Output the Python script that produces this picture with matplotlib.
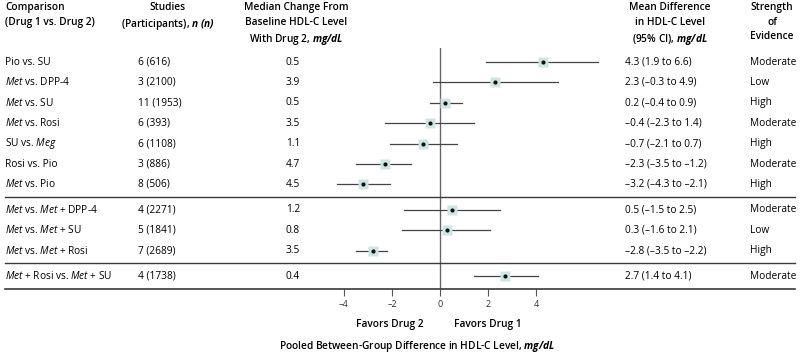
import matplotlib
matplotlib.use("Agg")
import matplotlib.pyplot as plt
import matplotlib.transforms as mtransforms

plt.rcParams['font.family'] = ['Open Sans', 'DejaVu Sans']
plt.rcParams['mathtext.fontset'] = 'custom'
plt.rcParams['mathtext.rm'] = 'Open Sans'
plt.rcParams['mathtext.it'] = 'Open Sans:italic'
plt.rcParams['mathtext.bf'] = 'Open Sans:bold'
plt.rcParams['mathtext.bfit'] = 'Open Sans:italic:bold'

# data
comparisons = [r"Pio vs. SU", r"$\mathit{Met}$ vs. DPP-4", r"$\mathit{Met}$ vs. SU",
               r"$\mathit{Met}$ vs. Rosi", r"SU vs. $\mathit{Meg}$", r"Rosi vs. Pio",
               r"$\mathit{Met}$ vs. Pio",
               r"$\mathit{Met}$ vs. $\mathit{Met}$ + DPP-4", r"$\mathit{Met}$ vs. $\mathit{Met}$ + SU",
               r"$\mathit{Met}$ vs. $\mathit{Met}$ + Rosi",
               r"$\mathit{Met}$ + Rosi vs. $\mathit{Met}$ + SU"]
group_sizes = [7, 3, 1]
studies = [6, 3, 11, 6, 6, 3, 8, 4, 5, 7, 4]
participants = [616, 2100, 1953, 393, 1108, 886, 506, 2271, 1841, 2689, 1738]
median_change = [0.5, 3.9, 0.5, 3.5, 1.1, 4.7, 4.5, 1.2, 0.8, 3.5, 0.4]
mean_diff = [4.3, 2.3, 0.2, -0.4, -0.7, -2.3, -3.2, 0.5, 0.3, -2.8, 2.7]
ci_low = [1.9, -0.3, -0.4, -2.3, -2.1, -3.5, -4.3, -1.5, -1.6, -3.5, 1.4]
ci_high = [6.6, 4.9, 0.9, 1.4, 0.7, -1.2, -2.1, 2.5, 2.1, -2.2, 4.1]
strength = ["Moderate", "Low", "High", "Moderate", "High", "Moderate", "High",
            "Moderate", "Low", "High", "Moderate"]
xticks = [-4, -2, 0, 2, 4]


def fmt(v):
    s = f"{abs(v):.1f}"
    return "\u2013" + s if v < 0 else s


# row positions, with a bit of extra space between groups
ys = []
y = 0.0
for g, n in enumerate(group_sizes):
    for i in range(n):
        ys.append(y)
        y += 1
    y += 0.25
sep_lines = []
acc = 0
for n in group_sizes[:-1]:
    acc += n
    sep_lines.append((ys[acc - 1] + ys[acc]) / 2)
y_bottom = ys[-1] + 0.63

fig = plt.figure(figsize=(8, 3.58), dpi=100)
W, H = 800, 358
ax_l, ax_r = 330, 610
ax_t, ax_b = 48, 289
ax = fig.add_axes([ax_l / W, 1 - ax_b / H, (ax_r - ax_l) / W, (ax_b - ax_t) / H])
ax.set_xlim((ax_l - 440) / 24, (ax_r - 440) / 24)
ax.set_ylim(y_bottom, -0.69)

line_c = '#3a3a3a'
for yi, m, lo, hi in zip(ys, mean_diff, ci_low, ci_high):
    ax.plot([lo, hi], [yi, yi], color='#444444', lw=0.9, zorder=2)
    ax.plot(m, yi, marker='s', ms=7.8, color='#cfe4e5', mec='none', zorder=3)
    ax.plot(m, yi, marker='o', ms=3, color='#111111', mec='none', zorder=4)

ax.axvline(0, color='#666666', lw=1, zorder=1)
span_l = (5 - ax_l) / (ax_r - ax_l)
span_r = (795 - ax_l) / (ax_r - ax_l)
for s in sep_lines:
    ax.axhline(s, xmin=span_l, xmax=span_r, color=line_c, lw=1, clip_on=False)
ax.axhline(y_bottom, xmin=span_l, xmax=span_r, color=line_c, lw=1.2, clip_on=False)

for sp in ax.spines.values():
    sp.set_visible(False)
ax.set_yticks([])
ax.set_xticks(xticks)
ax.set_xticklabels([("\u2013" if t < 0 else "") + str(abs(t)) for t in xticks])
ax.tick_params(axis='x', direction='out', length=5, width=0.8, color='#555555',
               labelsize=6.5, labelcolor='#333333', pad=3)
ax.patch.set_visible(False)

# table text
trans = mtransforms.blended_transform_factory(fig.transFigure, ax.transData)
fs = 7.3
for i, yi in enumerate(ys):
    ax.text(5 / W, yi, comparisons[i], transform=trans, fontsize=fs, va='center', ha='left')
    ax.text(138 / W, yi, f"{studies[i]} ({participants[i]})", transform=trans,
            fontsize=fs, va='center', ha='left')
    ax.text(293 / W, yi, f"{median_change[i]:.1f}", transform=trans,
            fontsize=fs, va='center', ha='center')
    ax.text(625 / W, yi, f"{fmt(mean_diff[i])} ({fmt(ci_low[i])} to {fmt(ci_high[i])})",
            transform=trans, fontsize=fs, va='center', ha='left')
    ax.text(750 / W, yi, strength[i], transform=trans, fontsize=fs, va='center', ha='left')

# headers
hw = 'semibold'
top = 1 - 2 / H
fig.text(5 / W, top, "Comparison\n(Drug 1 vs. Drug 2)", fontsize=fs, fontweight=hw,
         ha='left', va='top', linespacing=1.45)
fig.text(168 / W, top, "Studies\n(Participants), $\\mathbfit{n\\ (n)}$", fontsize=fs,
         fontweight=hw, ha='center', va='top', multialignment='center', linespacing=1.45)
fig.text(296 / W, top, "Median Change From\nBaseline HDL-C Level\nWith Drug 2, $\\mathbfit{mg/dL}$",
         fontsize=fs, fontweight=hw, ha='center', va='top', multialignment='center',
         linespacing=1.45)
fig.text(670 / W, top, "Mean Difference\nin HDL-C Level\n(95% CI), $\\mathbfit{mg/dL}$",
         fontsize=fs, fontweight=hw, ha='center', va='top', multialignment='center',
         linespacing=1.45)
fig.text(772 / W, top, "Strength\nof\nEvidence", fontsize=fs, fontweight=hw,
         ha='center', va='top', multialignment='center', linespacing=1.45)

# favors labels and axis title
fy = 1 - 324 / H
xt = mtransforms.blended_transform_factory(ax.transData, fig.transFigure)
fig.text(-0.7, fy, "Favors Drug 2", transform=xt, fontsize=fs, fontweight=hw,
         ha='right', va='center')
fig.text(0.6, fy, "Favors Drug 1", transform=xt, fontsize=fs, fontweight=hw,
         ha='left', va='center')
fig.text(417 / W, 1 - 346 / H,
         "Pooled Between-Group Difference in HDL-C Level, $\\mathbfit{mg/dL}$",
         fontsize=fs, fontweight=hw, ha='center', va='center')

fig.savefig("out.png", dpi=100)
